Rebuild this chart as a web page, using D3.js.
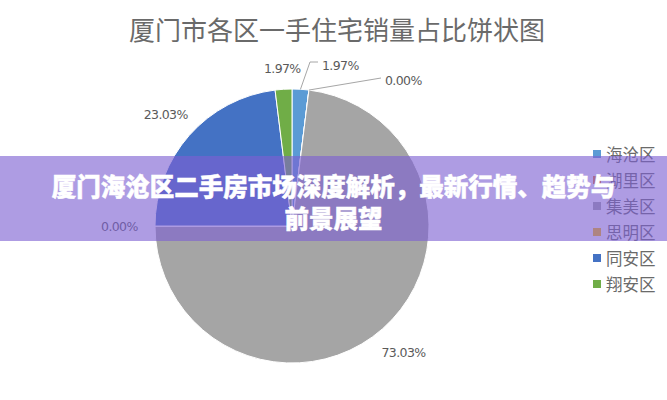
<!DOCTYPE html>
<html><head><meta charset="utf-8">
<script src="https://cdn.jsdelivr.net/npm/d3@7/dist/d3.min.js"></script>
<style>
html,body{margin:0;padding:0;background:#fff;}
svg{display:block;}
</style></head>
<body>
<svg id="c" width="667" height="400"></svg>
<script>
const title = "厦门市各区一手住宅销量占比饼状图";
const categories = ["海沧区", "湖里区", "集美区", "思明区", "同安区", "翔安区"];
const values = [1.97, 0.00, 73.03, 0.00, 23.03, 1.97];
const colors = ["#5b9bd5", "#ed7d31", "#a5a5a5", "#ffc000", "#4472c4", "#70ad47"];
const bannerLines = ["厦门海沧区二手房市场深度解析，最新行情、趋势与", "前景展望"];

const svg = d3.select("#c");
const W = 667, H = 400;
const cx = 292, cy = 226, R = 137;
const font = "'Noto Sans CJK SC','Noto Sans',sans-serif";

svg.append("text").attr("x", 337).attr("y", 28)
  .attr("text-anchor", "middle").attr("dominant-baseline", "central")
  .attr("font-family", font).attr("font-size", 26).attr("fill", "#6a6a6a")
  .text(title);

const pie = d3.pie().sort(null).value(d => d)(values);
const arc = d3.arc().innerRadius(0).outerRadius(R);
const g = svg.append("g").attr("transform", `translate(${cx},${cy})`);
g.selectAll("path").data(pie).join("path")
  .attr("d", arc).attr("fill", (d, i) => colors[i])
  .attr("stroke", "#fff").attr("stroke-width", 1);

// labels
const fmt = d3.format(".2f");
const pt = (a, r) => [Math.sin(a) * r, -Math.cos(a) * r];
pie.forEach((d, i) => {
  const mid = (d.startAngle + d.endAngle) / 2;
  let [x, y] = pt(mid, R * 1.23);
  let anchor = "middle";
  let leader = null;
  if (i === 0) { // small slice on right of top: pushed out with leader
    const e = pt(mid, R);
    x = 30; y = -161; anchor = "start";
    leader = [e, [18, -164], [26, -164]];
  } else if (i === 1) {
    const e = pt(mid, R);
    x = 93; y = -146; anchor = "start";
    leader = [e, [89, -148]];
  } else if (i === 5) {
    [x, y] = pt(mid, R * 1.15);
  } else if (i === 3) {
    [x, y] = pt(mid, R * 1.26);
  }
  if (leader) {
    g.append("path").attr("d", d3.line()(leader))
      .attr("fill", "none").attr("stroke", "#a6a6a6").attr("stroke-width", 1);
  }
  g.append("text").attr("x", x).attr("y", y)
    .attr("text-anchor", anchor).attr("dominant-baseline", "central")
    .attr("font-family", "'DejaVu Sans','Noto Sans',sans-serif").attr("font-size", 12.5)
    .attr("letter-spacing", -0.6)
    .attr("fill", "#5a5a5a").text(fmt(values[i]) + "%");
});

// legend
const ly = d3.scalePoint().domain(categories).range([154, 284]);
const lg = svg.append("g");
categories.forEach((c, i) => {
  lg.append("rect").attr("x", 593).attr("y", ly(c) - 4).attr("width", 8).attr("height", 8)
    .attr("fill", colors[i]);
  lg.append("text").attr("x", 606).attr("y", ly(c)).attr("dominant-baseline", "central")
    .attr("font-family", font).attr("font-size", 16.5).attr("fill", "#6a6a6a").text(c);
});

// banner overlay
svg.append("rect").attr("x", 0).attr("y", 156).attr("width", W).attr("height", 85)
  .attr("fill", "rgb(125,95,210)").attr("fill-opacity", 0.62);
const by = d3.scalePoint().domain(bannerLines).range([185, 217]);
bannerLines.forEach(t => {
  svg.append("text").attr("x", 333.5).attr("y", by(t))
    .attr("text-anchor", "middle").attr("dominant-baseline", "central")
    .attr("font-family", font).attr("font-weight", 900).attr("font-size", 24.5)
    .attr("fill", "#fff")
    .attr("style", "stroke:#fff;stroke-width:0.5px")
    .text(t);
});
</script>
</body></html>
